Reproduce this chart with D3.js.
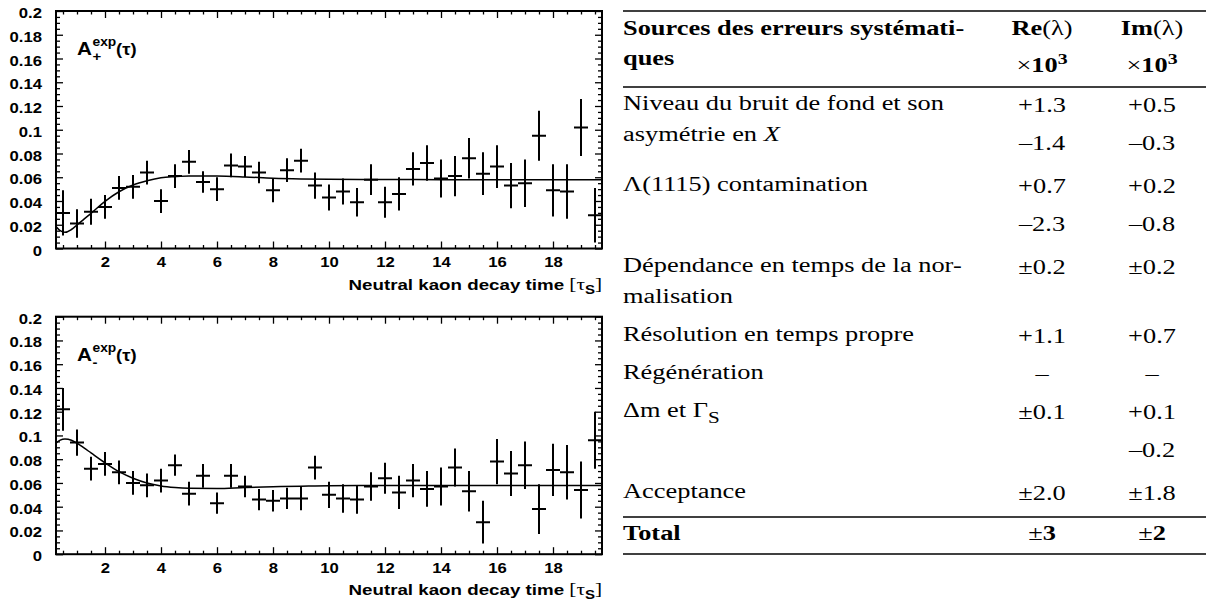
<!DOCTYPE html>
<html>
<head>
<meta charset="utf-8">
<script src="https://cdn.jsdelivr.net/npm/d3@7"></script>
<style>
    html, body { margin: 0; padding: 0; background: #fff; }
    svg { display: block; }
</style>
</head>
<body>
<div id="render-zone"></div>
<script>
(function ( w ) {

"use strict";

/* ---------------------------------------------- *
 * values                     *
 * ---------------------------------------------- */
var tauBins = [0.5, 1, 1.5, 2, 2.5, 3, 3.5, 4, 4.5, 5, 5.5, 6, 6.5, 7, 7.5, 8, 8.5, 9, 9.5, 10,
               10.5, 11, 11.5, 12, 12.5, 13, 13.5, 14, 14.5, 15, 15.5, 16, 16.5, 17, 17.5, 18, 18.5, 19, 19.5],
    binHalf = 0.25,

    aPlusVals = [0.030, 0.021, 0.031, 0.035, 0.051, 0.052, 0.064, 0.040, 0.061, 0.073,
                 0.056, 0.050, 0.070, 0.069, 0.064, 0.049, 0.066, 0.074, 0.053, 0.043,
                 0.048, 0.039, 0.058, 0.039, 0.046, 0.067, 0.072, 0.059, 0.061, 0.076,
                 0.063, 0.069, 0.053, 0.055, 0.095, 0.049, 0.048, 0.102, 0.028],
    aPlusErrs = [0.019, 0.012, 0.011, 0.010, 0.010, 0.010, 0.010, 0.010, 0.010, 0.010,
                 0.009, 0.010, 0.010, 0.009, 0.009, 0.010, 0.010, 0.010, 0.011, 0.011,
                 0.011, 0.012, 0.013, 0.013, 0.014, 0.014, 0.015, 0.016, 0.017, 0.017,
                 0.018, 0.018, 0.019, 0.020, 0.021, 0.022, 0.023, 0.024, 0.023],

    aMinusVals = [0.122, 0.094, 0.072, 0.076, 0.069, 0.060, 0.058, 0.062, 0.075, 0.051,
                  0.066, 0.043, 0.066, 0.057, 0.046, 0.045, 0.047, 0.047, 0.073, 0.050,
                  0.047, 0.046, 0.057, 0.064, 0.052, 0.062, 0.055, 0.057, 0.073, 0.053,
                  0.027, 0.078, 0.068, 0.075, 0.038, 0.071, 0.069, 0.054, 0.096],
    aMinusErrs = [0.018, 0.011, 0.010, 0.010, 0.010, 0.010, 0.010, 0.010, 0.009, 0.010,
                  0.010, 0.009, 0.010, 0.009, 0.009, 0.009, 0.009, 0.010, 0.010, 0.011,
                  0.012, 0.012, 0.012, 0.013, 0.014, 0.014, 0.015, 0.016, 0.016, 0.017,
                  0.018, 0.019, 0.019, 0.020, 0.021, 0.022, 0.023, 0.024, 0.024],

    /* fitted curves, read at a handful of decay times */
    fitTau   = [0.25, 0.4, 0.57, 0.8, 1, 1.25, 1.5, 2, 2.5, 3, 3.5, 4, 4.5, 5, 6, 7, 8, 9, 10, 12, 14, 16, 18, 19.75],
    fitPlus  = [0.0185, 0.0150, 0.0136, 0.0160, 0.0198, 0.0248, 0.0296, 0.0397, 0.0478, 0.0535, 0.0571, 0.0596,
                0.0605, 0.0610, 0.0610, 0.0603, 0.0592, 0.0586, 0.0583, 0.0581, 0.0580, 0.0580, 0.0580, 0.0580],
    fitMinus = [0.0935, 0.0960, 0.0970, 0.0960, 0.0935, 0.0895, 0.0853, 0.0770, 0.0695, 0.0640, 0.0600, 0.0575,
                0.0562, 0.0556, 0.0554, 0.0562, 0.0568, 0.0573, 0.0577, 0.0578, 0.0578, 0.0578, 0.0578, 0.0578],

    tauDomain  = [0.25, 19.75],
    asymDomain = [0, 0.2],
    xTicks = [2, 4, 6, 8, 10, 12, 14, 16, 18],
    yTicks = [0, 0.02, 0.04, 0.06, 0.08, 0.1, 0.12, 0.14, 0.16, 0.18, 0.2],
    labelSubs = ["+", "-"],
    xTitle = "Neutral kaon decay time ",

    /* systematics table */
    tableHead = ["Sources des erreurs systémati-", "ques"],
    colHeads  = ["Re<n>(λ)</n>", "Im<n>(λ)</n>"],
    colUnit   = "<n>×</n>10<sup>3</sup>",
    sourceLabels = [
        ["Niveau du bruit de fond et son", "asymétrie en <i>X</i>"],
        ["Λ(1115) contamination"],
        ["Dépendance en temps de la nor-", "malisation"],
        ["Résolution en temps propre"],
        ["Régénération"],
        ["Δm et Γ<sub>S</sub>"],
        ["Acceptance"]
    ],
    reErrors = [["+1.3", "–1.4"], ["+0.7", "–2.3"], ["±0.2"], ["+1.1"], ["–"], ["±0.1"], ["±2.0"]],
    imErrors = [["+0.5", "–0.3"], ["+0.2", "–0.8"], ["±0.2"], ["+0.7"], ["–"], ["+0.1", "–0.2"], ["±1.8"]],
    totalRow = ["Total", "<n>±</n>3", "<n>±</n>2"],

    /* private: */
    _d, _rich, _stretch, _drawPanel, _drawTable, domEntry;

/* Layout / style settings */
_d = {
    size : { width : 1206, height : 608 },
    sans : "'Liberation Sans', Arial, Helvetica, sans-serif",
    serif : "'Liberation Serif', 'Times New Roman', Times, serif",
    plot : { left : 56, width : 546, height : 237.5, tops : [11, 316.7] },
    tickFont : 14.5,
    chartSx : 1.15,
    titleSx : 1.25,
    tableSx : 1.32,
    table : {
        left : 623, right : 1206, cols : [1042, 1152],
        top : 11, head : [35, 65], unit : 72, headRule : 87,
        firstRow : 110, fontSize : 20
    }
};

/* _stretch
 * the picture is wider than it is tall, so text gets a horizontal scale
 */
_stretch = function ( x, y, sx ) {
    return "translate(" + x + "," + y + ") scale(" + sx + ",1)";
};

/* _rich
 * tiny markup -> tspans : <i>, <n> (normal weight), <sub>, <sup>
 */
_rich = function ( text, str, size ) {
    var parts = str.split(/(<i>.*?<\/i>|<n>.*?<\/n>|<sub>.*?<\/sub>|<sup>.*?<\/sup>)/),
        shift = 0;

    parts.forEach(function ( p ) {
        if( !p ){ return; }
        var m, ts = text.append("tspan"), dy = 0;

        if( (m = p.match(/^<i>(.*)<\/i>$/)) ){
            ts.attr("font-style", "italic").text(m[1]);
        } else if( (m = p.match(/^<n>(.*)<\/n>$/)) ){
            ts.attr("font-weight", "normal").text(m[1]);
        } else if( (m = p.match(/^<sub>(.*)<\/sub>$/)) ){
            dy = size * 0.3;
            ts.attr("font-size", size * 0.8).text(m[1]);
        } else if( (m = p.match(/^<sup>(.*)<\/sup>$/)) ){
            dy = -size * 0.38;
            ts.attr("font-size", size * 0.75).text(m[1]);
        } else {
            ts.text(p);
        }
        if( dy - shift !== 0 ){ ts.attr("dy", dy - shift); }
        shift = dy;
    });
};

/* _drawPanel
 * one asymmetry histogram with its fit
 */
_drawPanel = function ( svg, idx, vals, errs, fit, sub ) {
    var p = _d.plot, sx = _d.chartSx,
        top = p.tops[idx],
        wd = p.width, ht = p.height,
        g = svg.append("g").attr("transform", "translate(" + p.left + "," + top + ")"),
        x = d3.scaleLinear().domain(tauDomain).range([0, wd]),
        y = d3.scaleLinear().domain(asymDomain).range([ht, 0]),
        xMinor = tauBins.filter(function ( t ){ return xTicks.indexOf(t) < 0; }),
        yMinor = d3.range(0, 0.2001, 0.005).filter(function ( v ){ return Math.round(v * 1000) % 20 !== 0; }),
        clipId = "clip-" + idx,
        data = tauBins.map(function ( t, i ){ return { t : t, v : vals[i], e : errs[i] }; }),
        plotArea, axes, label, aw, tt;

    g.append("clipPath").attr("id", clipId)
        .append("rect").attr("width", wd).attr("height", ht);

    /* axes, ticks pointing inwards on all four sides */
    axes = [
        { a : d3.axisBottom(x).tickValues(xTicks).tickSize(-7).tickFormat(d3.format("d")), t : "translate(0," + ht + ")", lab : "x" },
        { a : d3.axisBottom(x).tickValues(xMinor).tickSize(-3.5).tickFormat(""), t : "translate(0," + ht + ")" },
        { a : d3.axisTop(x).tickValues(xTicks).tickSize(-7).tickFormat(""), t : null },
        { a : d3.axisTop(x).tickValues(xMinor).tickSize(-3.5).tickFormat(""), t : null },
        { a : d3.axisLeft(y).tickValues(yTicks).tickSize(-7).tickFormat(String), t : null, lab : "y" },
        { a : d3.axisLeft(y).tickValues(yMinor).tickSize(-4).tickFormat(""), t : null },
        { a : d3.axisRight(y).tickValues(yTicks).tickSize(-7).tickFormat(""), t : "translate(" + wd + ",0)" },
        { a : d3.axisRight(y).tickValues(yMinor).tickSize(-4).tickFormat(""), t : "translate(" + wd + ",0)" }
    ];

    axes.forEach(function ( ax ){
        var ag = g.append("g").call(ax.a), txt;
        if( ax.t ){ ag.attr("transform", ax.t); }
        ag.select(".domain").remove();
        ag.selectAll("line").attr("stroke", "#000").attr("stroke-width", 1.3);
        txt = ag.selectAll("text")
            .attr("font-family", _d.sans).attr("font-size", _d.tickFont)
            .attr("font-weight", "bold").attr("fill", "#000");
        if( ax.lab === "x" ){
            txt.attr("y", null).attr("dy", null).attr("transform", _stretch(0, 18.5, sx));
        } else if( ax.lab === "y" ){
            txt.attr("x", null).attr("dy", null).attr("transform", _stretch(-14, 6.5, sx));
        }
    });

    /* frame */
    g.append("rect").attr("width", wd).attr("height", ht)
        .attr("fill", "none").attr("stroke", "#000").attr("stroke-width", 2);

    plotArea = g.append("g").attr("clip-path", "url(#" + clipId + ")");

    /* fit */
    plotArea.append("path")
        .datum(fitTau.map(function ( t, i ){ return [t, fit[i]]; }))
        .attr("fill", "none").attr("stroke", "#000").attr("stroke-width", 1.5)
        .attr("d", d3.line()
            .x(function ( d ){ return x(d[0]); })
            .y(function ( d ){ return y(d[1]); })
            .curve(d3.curveMonotoneX));

    /* data crosses */
    plotArea.selectAll("line.ev").data(data).enter().append("line").attr("class", "ev")
        .attr("x1", function ( d ){ return x(d.t); }).attr("x2", function ( d ){ return x(d.t); })
        .attr("y1", function ( d ){ return y(d.v - d.e); }).attr("y2", function ( d ){ return y(d.v + d.e); })
        .attr("stroke", "#000").attr("stroke-width", 2);
    plotArea.selectAll("line.eh").data(data).enter().append("line").attr("class", "eh")
        .attr("x1", function ( d ){ return x(d.t - binHalf); }).attr("x2", function ( d ){ return x(d.t + binHalf); })
        .attr("y1", function ( d ){ return y(d.v); }).attr("y2", function ( d ){ return y(d.v); })
        .attr("stroke", "#000").attr("stroke-width", 2);

    /* A^exp_sub(tau) label */
    label = g.append("g").attr("transform", _stretch(21, 44, sx))
        .attr("font-family", _d.sans).attr("font-weight", "bold").attr("fill", "#000");
    aw = label.append("text").attr("font-size", 18).text("A").node().getComputedTextLength();
    label.append("text").attr("x", aw + 0.5).attr("y", -9).attr("font-size", 12).text("exp");
    label.append("text").attr("x", aw + 0.5).attr("y", 6).attr("font-size", 13).text(sub);
    label.append("text").attr("x", aw + 21).attr("font-size", 16).text("(τ)");

    /* x title */
    tt = g.append("text").attr("transform", _stretch(wd, ht + 41, _d.titleSx))
        .attr("text-anchor", "end").attr("fill", "#000");
    tt.append("tspan").attr("font-family", _d.sans).attr("font-weight", "bold").attr("font-size", 15).text(xTitle);
    tt.append("tspan").attr("font-family", _d.serif).attr("font-size", 17).text("[τ");
    tt.append("tspan").attr("font-family", _d.sans).attr("font-weight", "bold").attr("font-size", 12).attr("dy", 4).text("S");
    tt.append("tspan").attr("font-family", _d.serif).attr("font-size", 17).attr("dy", -4).text("]");
};

/* _drawTable
 * the systematic error table on the right
 */
_drawTable = function ( svg ) {
    var t = _d.table, sx = _d.tableSx, fs = t.fontSize,
        g = svg.append("g").attr("font-family", _d.serif).attr("font-size", fs).attr("fill", "#000"),
        y = t.firstRow,
        rule = function ( yy ){
            g.append("line").attr("x1", t.left).attr("x2", t.right)
                .attr("y1", yy).attr("y2", yy).attr("stroke", "#000").attr("stroke-width", 1.4);
        },
        put = function ( x, yy, str, anchor, bold ){
            var tx = g.append("text").attr("transform", _stretch(x, yy, sx))
                .attr("text-anchor", anchor || "start");
            if( bold ){ tx.attr("font-weight", "bold"); }
            _rich(tx, str, fs);
        };

    rule(t.top);
    tableHead.forEach(function ( s, i ){ put(t.left, t.head[i], s, "start", true); });
    colHeads.forEach(function ( s, i ){
        put(t.cols[i], t.head[0], s, "middle", true);
        put(t.cols[i], t.unit, colUnit, "middle", true);
    });
    rule(t.headRule);

    sourceLabels.forEach(function ( lines, r ){
        var nV = Math.max(reErrors[r].length, imErrors[r].length);
        lines.forEach(function ( s, j ){ put(t.left, y + j * 31, s, "start"); });
        reErrors[r].forEach(function ( s, j ){ put(t.cols[0], y + 2 + j * 38, s, "middle"); });
        imErrors[r].forEach(function ( s, j ){ put(t.cols[1], y + 2 + j * 38, s, "middle"); });
        y += Math.max(38 + (lines.length - 1) * 31, 38 + (nV - 1) * 43);
    });

    rule(y - 19);
    put(t.left, y + 4, totalRow[0], "start", true);
    put(t.cols[0], y + 4, totalRow[1], "middle", true);
    put(t.cols[1], y + 4, totalRow[2], "middle", true);
    rule(y + 18);
};

/* domEntry
 * builds the whole picture
 */
domEntry = function ( ) {
    var svg = d3.select("#render-zone").append("svg")
        .attr("width", _d.size.width).attr("height", _d.size.height);

    _drawPanel(svg, 0, aPlusVals, aPlusErrs, fitPlus, labelSubs[0]);
    _drawPanel(svg, 1, aMinusVals, aMinusErrs, fitMinus, labelSubs[1]);
    _drawTable(svg);
};

domEntry( );

})( window );
</script>
</body>
</html>
